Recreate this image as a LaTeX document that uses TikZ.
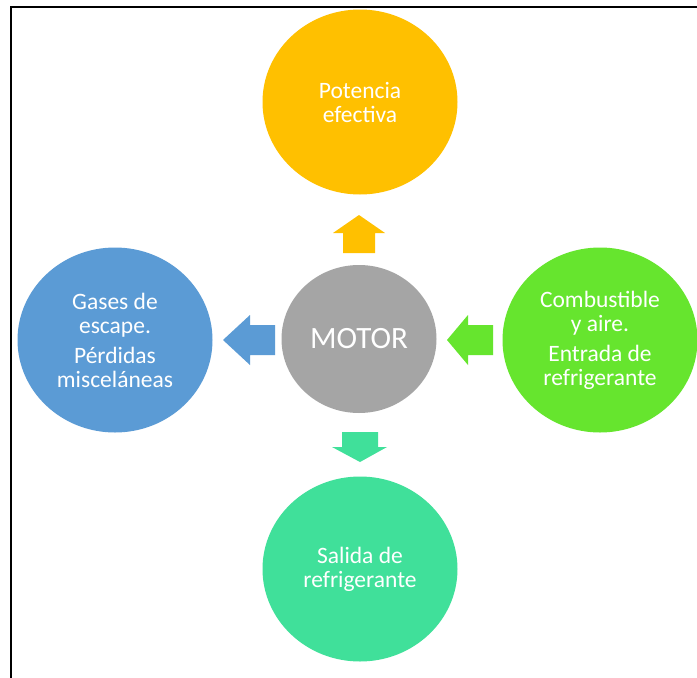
\documentclass[tikz,border=0pt]{standalone}
\usepackage{fontspec}
\setmainfont{Carlito}
\usetikzlibrary{shapes.geometric}
\definecolor{cyellow}{HTML}{FFC000}
\definecolor{cgray}{HTML}{A5A5A5}
\definecolor{cblue}{HTML}{5B9BD5}
\definecolor{cgreen}{HTML}{66E52E}
\definecolor{cteal}{HTML}{40E09A}
\tikzset{
  bubble/.style={ellipse, inner sep=0pt, minimum width=195pt, minimum height=185pt,
    text=white, align=center, font=\fontsize{23.5}{24}\selectfont},
  hub/.style={ellipse, inner sep=0pt, minimum width=155pt, minimum height=148pt,
    fill=cgray, text=white, font=\fontsize{31}{31}\selectfont},
  frameline/.style={line width=2pt, black}
}
\begin{document}
\begin{tikzpicture}[x=1pt,y=-1pt]
\useasboundingbox (0,0) rectangle (697,678);
\fill[white] (0,0) rectangle (697,678);
\draw[frameline] (11,678) -- (11,7) -- (697,7);

\node[bubble, fill=cyellow] (pot) at (360,102) {Potencia\\efectiva};
\node[bubble, fill=cblue] (gas) at (115,340) {Gases de\\escape.\\[6pt]Pérdidas\\misceláneas};
\node[bubble, fill=cgreen] (comb) at (600,340) {Combustible\\y aire.\\[6pt]Entrada de\\refrigerante};
\node[bubble, fill=cteal] (sal) at (360,569) {Salida de\\refrigerante};
\node[hub] (motor) at (359,339) {MOTOR};

% block arrows
\fill[cyellow] (343,253) -- (343,233) -- (333,233) -- (359,215) -- (385,233) -- (375,233) -- (375,253) -- cycle;
\fill[cteal] (342,432) -- (342,447) -- (332,447) -- (360,462) -- (387,447) -- (378,447) -- (378,432) -- cycle;
\fill[cblue] (275,325) -- (250,325) -- (250,315) -- (223,340) -- (250,365) -- (250,355) -- (275,355) -- cycle;
\fill[cgreen] (493,325) -- (468,325) -- (468,315) -- (447,340) -- (468,365) -- (468,355) -- (493,355) -- cycle;
\end{tikzpicture}
\end{document}
